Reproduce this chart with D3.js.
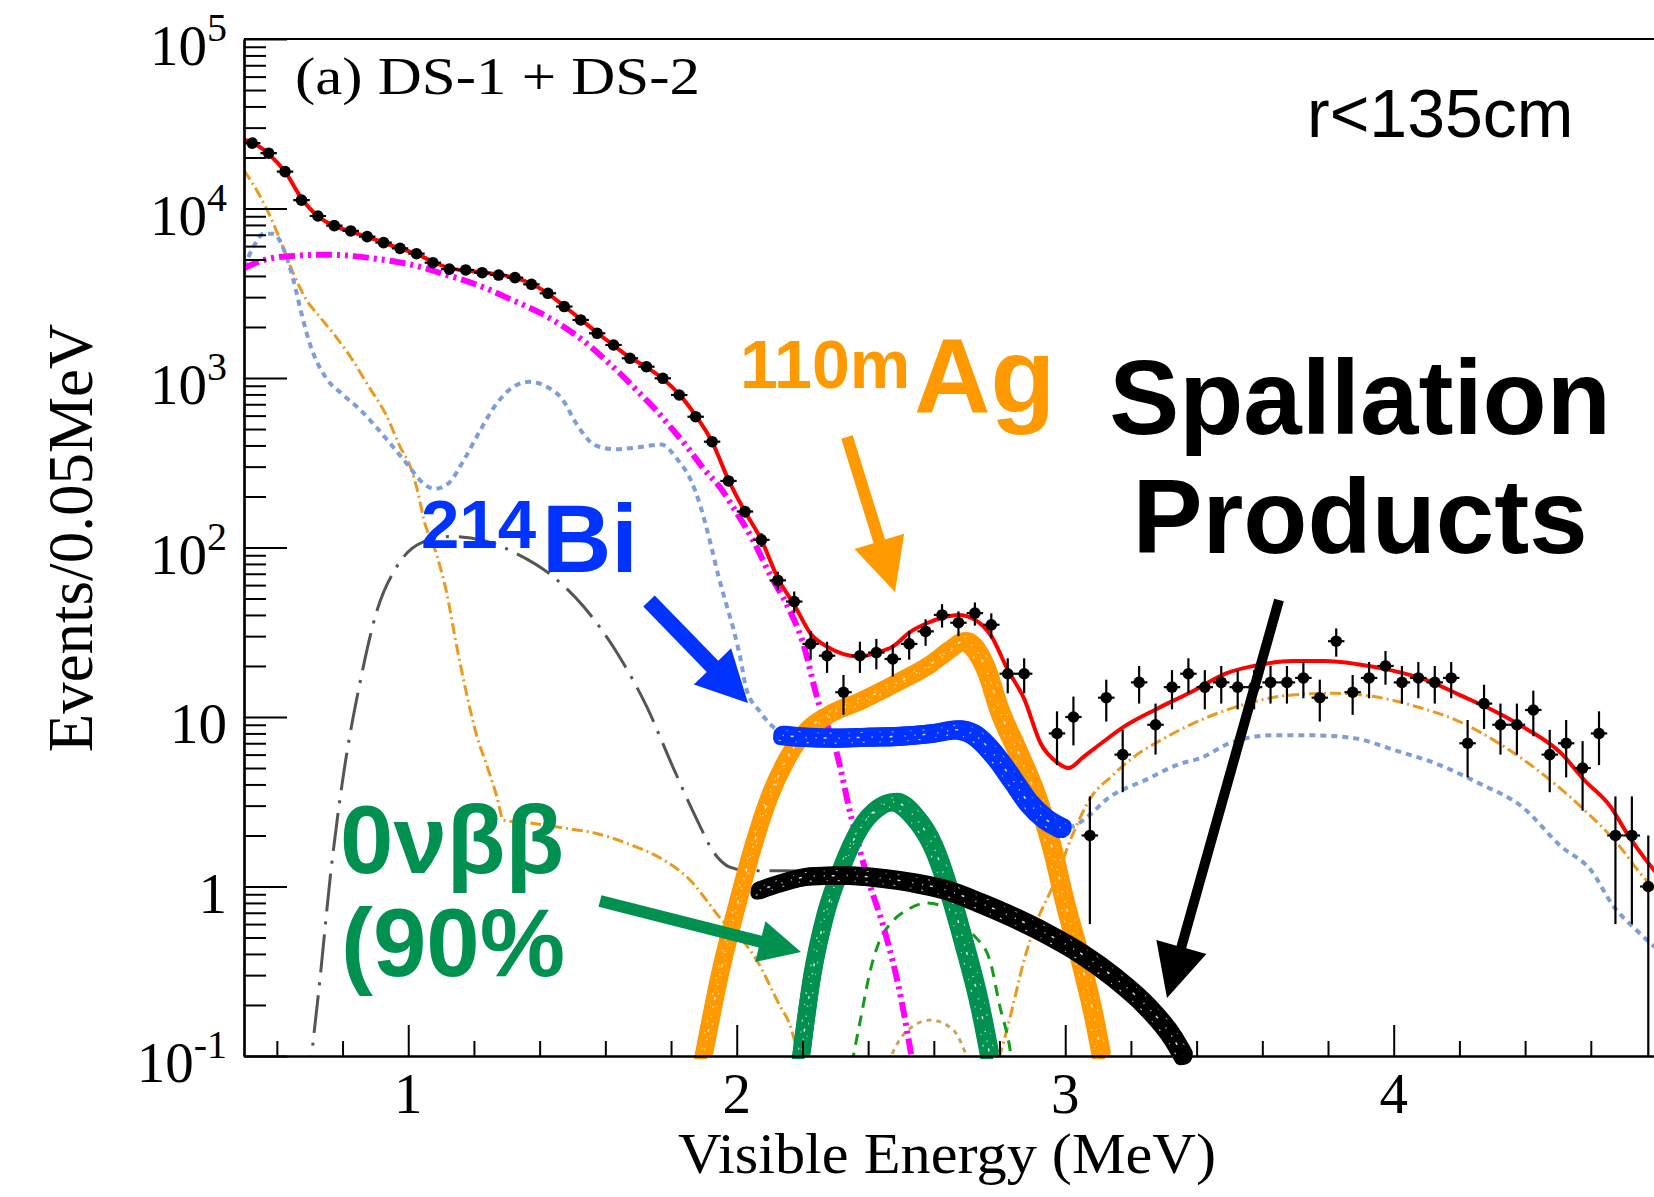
<!DOCTYPE html>
<html>
<head>
<meta charset="utf-8">
<script src="https://cdn.jsdelivr.net/npm/d3@7"></script>
<style>
body { margin: 0; background: #fff; }
svg { display: block; }
</style>
</head>
<body>
<svg id="chart" width="1654" height="1197"></svg>
<script>
// data points (0.05 MeV bins)
const dataE = [0.525,0.575,0.625,0.675,0.725,0.775,0.825,0.875,0.925,0.975,
    1.025,1.075,1.125,1.175,1.225,1.275,1.325,1.375,1.425,1.475,
    1.525,1.575,1.625,1.675,1.725,1.775,1.825,1.875,1.925,1.975,
    2.025,2.075,2.125,2.175,2.225,2.275,2.325,2.375,2.425,2.475,
    2.525,2.575,2.625,2.675,2.725,2.775,2.825,2.875,2.925,2.975,
    3.025,3.075,3.125,3.175,3.225,3.275,3.325,3.375,3.425,3.475,
    3.525,3.575,3.625,3.675,3.725,3.775,3.825,3.875,3.925,3.975,
    4.025,4.075,4.125,4.175,4.225,4.275,4.325,4.375,4.425,4.475,
    4.525,4.575,4.625,4.675,4.725,4.775];
const dataN = [24300,21200,16500,11200,9030,7920,7370,6820,6290,5820,
    5410,4790,4390,4340,4180,4050,3910,3570,3160,2640,
    2200,1835,1566,1307,1166,996,794,591,421,247,
    163,111,64,48,27,23,14,23,24,22,
    27,32,40,36,41,35,18,18,null,8,
    10,2,13,6,16,9,15,18,15,16,
    15,15,16,16,17,13,28,14,17,20,
    16,17,16,17,7,12,9,9,11,6,
    7,5,8,2,2,1];
const dataErr = [156,146,128,106,95,89,86,83,79,76,
    74,69,66,66,65,64,63,60,56,51,
    47,43,40,36,34,32,28,24,21,16,
    13,10.5,8,7,5.2,4.8,3.7,4.8,4.9,4.7,
    5.2,5.7,6.3,6,6.4,5.9,4.2,4.2,null,2.8,
    3.2,1.4,3.6,2.4,4,3,3.9,4.2,3.9,4,
    3.9,3.9,4,4,4.1,3.6,5.3,3.7,4.1,4.5,
    4,4.1,4,4.1,2.6,3.5,3,3,3.3,2.4,
    2.6,2.2,2.8,1.4,1.4,1];
const binHalf = 0.025;

// model curves [MeV, events/0.05MeV]
const totalFit = [[0.5,25500],[0.525,24500],[0.575,21000],[0.625,16500],[0.675,11500],[0.725,9000],
    [0.775,7900],[0.825,7300],[0.875,6800],[0.925,6300],[0.975,5800],[1.025,5400],[1.075,4850],
    [1.125,4450],[1.175,4300],[1.225,4200],[1.275,4080],[1.325,3900],[1.375,3600],[1.425,3150],
    [1.475,2650],[1.525,2220],[1.575,1850],[1.625,1560],[1.675,1320],[1.725,1160],[1.775,990],
    [1.825,800],[1.875,600],[1.925,420],[1.975,250],[2.025,163],[2.075,111],[2.125,66],[2.175,46],
    [2.225,31],[2.275,26],[2.325,23.5],[2.375,22.7],[2.425,24],[2.475,26],[2.525,31.5],[2.575,35.5],
    [2.625,38.5],[2.675,40],[2.725,37.5],[2.775,30],[2.825,19],[2.875,12.8],[2.925,7.0],[2.975,5.4],
    [3.01,5.0],[3.055,5.8],[3.11,7.0],[3.18,8.8],[3.28,11.2],[3.385,14.1],[3.49,18.1],[3.59,20.3],
    [3.69,21.4],[3.79,21.4],[3.89,20.5],[3.99,18.9],[4.10,16.5],[4.20,13.5],[4.30,11.0],[4.40,8.6],
    [4.51,6.1],[4.58,4.25],[4.66,2.96],[4.71,2.06],[4.76,1.5],[4.80,1.2]];
const xe2nu = [[0.50,4440],[0.55,4900],[0.60,5150],[0.65,5250],[0.70,5320],[0.75,5330],[0.80,5300],
    [0.85,5200],[0.90,5050],[0.95,4900],[1.00,4700],[1.05,4450],[1.10,4150],[1.15,3880],[1.20,3600],
    [1.25,3300],[1.30,2980],[1.35,2700],[1.40,2430],[1.45,2140],[1.50,1850],[1.55,1560],[1.60,1280],
    [1.65,1040],[1.70,830],[1.75,660],[1.80,510],[1.85,390],[1.90,290],[1.95,225],[2.00,160],
    [2.05,110],[2.10,70],[2.15,47],[2.20,28],[2.25,12],[2.30,6.6],[2.35,2.5],[2.40,1.1],[2.45,0.55],
    [2.50,0.22],[2.54,0.08]];
const bgBlue = [[0.50,4500],[0.53,6000],[0.56,7100],[0.59,7100],[0.62,5800],[0.65,3800],[0.675,2400],
    [0.70,1600],[0.75,1000],[0.80,800],[0.85,660],[0.90,520],[0.95,400],[1.00,305],[1.04,245],
    [1.08,222],[1.12,237],[1.17,330],[1.22,495],[1.27,710],[1.33,910],[1.37,950],[1.42,890],
    [1.47,745],[1.51,545],[1.57,400],[1.63,380],[1.70,390],[1.77,405],[1.82,330],[1.86,250],
    [1.89,174],[1.92,106],[1.945,67],[1.97,45],[1.99,33],[2.01,22.7],[2.03,14.5],[2.07,10.8],
    [2.12,8.5],[2.2,7.7],[2.3,7.6],[2.4,7.5],[2.5,7.6],[2.6,7.8],[2.7,7.8],[2.8,5.5],[2.9,3.5],
    [2.95,2.6],[3.0,2.2],[3.02,2.25],[3.08,2.7],[3.12,3.2],[3.25,4.3],[3.35,5.3],[3.41,5.7],
    [3.50,7.0],[3.63,7.8],[3.75,7.8],[3.88,7.5],[4.00,6.4],[4.13,5.3],[4.26,4.06],[4.39,2.96],
    [4.51,1.72],[4.60,1.25],[4.67,0.76],[4.74,0.55],[4.80,0.43]];
const bgOrange = [[0.50,16800],[0.55,11700],[0.58,8950],[0.61,6520],[0.65,4150],[0.69,2890],
    [0.73,2300],[0.78,1750],[0.83,1280],[0.88,889],[0.93,619],[0.975,394],[1.01,287],[1.03,209],
    [1.046,150],[1.087,90],[1.117,54],[1.147,26.4],[1.178,13.6],[1.208,7.8],[1.239,5.2],[1.269,3.43],
    [1.29,2.46],[1.37,2.37],[1.47,2.22],[1.57,2.06],[1.675,1.77],[1.776,1.44],[1.86,1.08],[1.91,0.82],
    [1.95,0.65],[2.01,0.5],[2.06,0.37],[2.13,0.2],[2.16,0.156],[2.19,0.1],[2.25,0.06],[2.75,0.06],
    [2.80,0.1],[2.84,0.195],[2.87,0.34],[2.90,0.53],[2.97,1.09],[3.02,1.97],[3.08,3.39],[3.14,4.45],
    [3.21,5.83],[3.31,7.65],[3.435,10.0],[3.56,12.1],[3.69,13.5],[3.82,13.8],[3.94,13.2],[4.07,11.5],
    [4.20,9.4],[4.32,7.0],[4.45,4.66],[4.58,2.83],[4.68,1.8],[4.75,1.2],[4.80,0.93]];
const bgGray = [[0.695,0.06],[0.706,0.1],[0.731,0.28],[0.762,1.11],[0.80,4.2],[0.853,15.9],[0.904,41.9],
    [0.965,77],[1.046,108],[1.127,116],[1.228,110],[1.33,92],[1.43,70],[1.533,45],[1.635,24],
    [1.726,11.5],[1.807,5.0],[1.878,2.5],[1.929,1.6],[1.979,1.3],[2.03,1.24],[2.15,1.24],[2.3,1.15]];
const bgGreenDash = [[2.34,0.07],[2.355,0.1],[2.38,0.177],[2.405,0.31],[2.435,0.48],[2.47,0.61],
    [2.52,0.73],[2.58,0.80],[2.65,0.72],[2.72,0.52],[2.77,0.37],[2.80,0.2],[2.835,0.1],[2.845,0.07]];
const bgTan = [[2.45,0.08],[2.47,0.1],[2.52,0.142],[2.59,0.163],[2.66,0.142],[2.70,0.1],[2.72,0.08]];

// fitted component bands
const agBand = [[1.89,0.08],[1.95,0.31],[2.00,0.76],[2.05,1.72],[2.10,3.39],[2.15,5.5],[2.21,8.2],
    [2.28,10.3],[2.38,12.5],[2.49,16],[2.59,20.5],[2.65,25],[2.69,28],[2.72,26],[2.76,19],[2.80,11],
    [2.86,6.0],[2.92,3.1],[2.96,1.7],[3.00,0.8],[3.045,0.38],[3.085,0.18],[3.12,0.08]];
const biBand = [[2.14,7.8],[2.20,7.6],[2.30,7.5],[2.40,7.6],[2.50,7.7],[2.60,8.0],[2.67,8.4],
    [2.72,7.9],[2.79,5.8],[2.84,4.25],[2.89,3.1],[2.94,2.5],[2.99,2.2]];
const onbbBand = [[2.19,0.08],[2.23,0.3],[2.27,0.68],[2.32,1.3],[2.375,2.2],[2.43,2.9],[2.48,3.15],
    [2.54,2.6],[2.60,1.7],[2.65,0.9],[2.69,0.48],[2.74,0.2],[2.78,0.08]];
const spallBand = [[2.07,0.95],[2.13,1.04],[2.23,1.15],[2.33,1.16],[2.44,1.12],[2.54,1.05],[2.64,0.95],
    [2.74,0.80],[2.84,0.66],[2.94,0.53],[3.05,0.40],[3.15,0.29],[3.25,0.195],[3.33,0.126],[3.36,0.1]];

// axis labels
const yTickValues = [0.1, 1, 10, 100, 1000, 10000, 100000];
const yTickBase = ["10", "1", "10", "10", "10", "10", "10"];
const yTickSup = ["-1", "", "", "2", "3", "4", "5"];
const xTickValues = [1, 2, 3, 4];

const SERIF = "'Liberation Serif', 'Times New Roman', serif";
const SANS = "'Liberation Sans', Arial, Helvetica, sans-serif";

const svg = d3.select("#chart");
const plot = { left: 244, top: 39, right: 1656.5, bottom: 1056 };

const xScale = d3.scaleLinear().domain([0.5, 4.8]).range([plot.left, plot.right]);
const yScale = d3.scaleLog().domain([0.1, 1e5]).range([plot.bottom, plot.top]);

svg.append("rect").attr("width", 1654).attr("height", 1197).attr("fill", "#fff");

let defs = svg.append("defs");
defs.append("clipPath").attr("id", "plotclip").append("rect")
    .attr("x", plot.left).attr("y", plot.top)
    .attr("width", plot.right - plot.left).attr("height", plot.bottom - plot.top);

let lineGen = d3.line()
    .x(function (d) { return xScale(d[0]); })
    .y(function (d) { return yScale(d[1]); })
    .curve(d3.curveMonotoneX);

function drawCurve(data, color, width, dash, clip) {
    let p = svg.append("path").datum(data)
        .attr("d", lineGen)
        .attr("fill", "none")
        .attr("stroke", color)
        .attr("stroke-width", width)
        .attr("stroke-linejoin", "round");
    if (dash) p.attr("stroke-dasharray", dash);
    if (clip) p.attr("clip-path", "url(#plotclip)");
    return p;
}

// thick scribbly bands: a few wide strokes slightly offset + white specks
function drawBand(data, color, width, clip) {
    drawCurve(data, color, width, null, clip).attr("stroke-linecap", "round");
    drawCurve(data, color, width * 0.7, null, clip).attr("transform", "translate(3,-3)").attr("stroke-linecap", "round");
    drawCurve(data, color, width * 0.7, null, clip).attr("transform", "translate(-3,3)").attr("stroke-linecap", "round");
    drawCurve(data, "#fff", 1.5, "1,7,3,12,1,9", clip).attr("opacity", 0.85);
    drawCurve(data, "#fff", 1.2, "2,15,1,10", clip).attr("opacity", 0.75).attr("transform", "translate(-4,5)");
    drawCurve(data, "#fff", 1.0, "1,11,2,17", clip).attr("opacity", 0.7).attr("transform", "translate(4,-5)");
}

// ---- background components
drawCurve(bgGray, "#555", 3, "38,10,3,10", true);
drawCurve(bgOrange, "#e99a1f", 3, "11,4,2,4", true);
drawCurve(bgBlue, "#7f9ed8", 4, "6,5", true);
drawCurve(bgTan, "#c9a45a", 3, "5,5", true);
drawCurve(bgGreenDash, "#139c1a", 3, "11,8", true);
drawCurve(xe2nu, "#ff00ff", 6, "16,5,3,5,3,5", true);

// ---- bands
drawBand(agBand, "#ff9900", 18, true);
drawBand(biBand, "#0033ff", 19, true);
drawBand(onbbBand, "#009150", 18, true);
drawBand(spallBand, "#000", 18, false);

// ---- total fit
drawCurve(totalFit, "#ff0000", 4, null, true);

// ---- data points with error bars
let points = dataE.map(function (e, i) {
    return { e: e, n: dataN[i], err: dataErr[i] };
}).filter(function (d) { return d.n != null; });

let pg = svg.append("g").attr("clip-path", "url(#plotclip)");
pg.selectAll("line.ex").data(points).enter().append("line")
    .attr("x1", function (d) { return xScale(d.e - binHalf); })
    .attr("x2", function (d) { return xScale(d.e + binHalf); })
    .attr("y1", function (d) { return yScale(d.n); })
    .attr("y2", function (d) { return yScale(d.n); })
    .attr("stroke", "#000").attr("stroke-width", 2.2);
pg.selectAll("line.ey").data(points).enter().append("line")
    .attr("x1", function (d) { return xScale(d.e); })
    .attr("x2", function (d) { return xScale(d.e); })
    .attr("y1", function (d) { return yScale(d.n + d.err); })
    .attr("y2", function (d) { return d.n - d.err > 0.01 ? yScale(d.n - d.err) : plot.bottom + 20; })
    .attr("stroke", "#000").attr("stroke-width", 2.2);
pg.selectAll("circle").data(points).enter().append("circle")
    .attr("cx", function (d) { return xScale(d.e); })
    .attr("cy", function (d) { return yScale(d.n); })
    .attr("r", 5.8).attr("fill", "#000");

// ---- axes (ticks pointing inwards, ROOT style)
let yMinor = [];
for (let dec = 0.1; dec < 1e5; dec *= 10) {
    for (let m = 2; m <= 9; m++) yMinor.push(+(dec * m).toPrecision(3));
}
let xMinor = [];
for (let v = 6; v <= 48; v += 2) {
    if (v % 10 !== 0) xMinor.push(v / 10);
}

function styleAxis(g) {
    g.selectAll("line").attr("stroke", "#000").attr("stroke-width", 2);
    g.selectAll("path.domain").attr("stroke", "#000").attr("stroke-width", 2.2);
    g.selectAll("text").remove();
}

svg.append("g").attr("transform", "translate(" + plot.left + ",0)")
    .call(d3.axisLeft(yScale).tickValues(yMinor).tickSize(-22).tickSizeOuter(0).tickFormat(""))
    .call(styleAxis);
svg.append("g").attr("transform", "translate(" + plot.left + ",0)")
    .call(d3.axisLeft(yScale).tickValues(yTickValues).tickSize(-43).tickSizeOuter(0).tickFormat(""))
    .call(styleAxis);
svg.append("g").attr("transform", "translate(0," + plot.bottom + ")")
    .call(d3.axisBottom(xScale).tickValues(xMinor).tickSize(-15).tickSizeOuter(0).tickFormat(""))
    .call(styleAxis);
svg.append("g").attr("transform", "translate(0," + plot.bottom + ")")
    .call(d3.axisBottom(xScale).tickValues(xTickValues).tickSize(-31).tickSizeOuter(0).tickFormat(""))
    .call(styleAxis);
svg.append("line")
    .attr("x1", plot.left).attr("x2", plot.right)
    .attr("y1", plot.top).attr("y2", plot.top)
    .attr("stroke", "#000").attr("stroke-width", 2.2);

// tick labels
yTickValues.forEach(function (v, i) {
    let t = svg.append("text")
        .attr("x", 227).attr("y", yScale(v) + 26)
        .attr("text-anchor", "end")
        .attr("font-family", SERIF).attr("font-size", 57);
    t.append("tspan").text(yTickBase[i]);
    if (yTickSup[i]) {
        t.append("tspan").attr("dy", -24).attr("font-size", 40).text(yTickSup[i]);
    }
});
xTickValues.forEach(function (v) {
    svg.append("text")
        .attr("x", xScale(v)).attr("y", 1113)
        .attr("text-anchor", "middle")
        .attr("font-family", SERIF).attr("font-size", 57)
        .text(v);
});

// axis titles
svg.append("text")
    .attr("x", 678).attr("y", 1173)
    .attr("textLength", 538).attr("lengthAdjust", "spacingAndGlyphs")
    .attr("font-family", SERIF).attr("font-size", 58)
    .text("Visible Energy (MeV)");
svg.append("text")
    .attr("transform", "translate(92,538) rotate(-90)")
    .attr("text-anchor", "middle")
    .attr("font-family", SERIF).attr("font-size", 63)
    .text("Events/0.05MeV");

// ---- annotations
svg.append("text")
    .attr("x", 295).attr("y", 94)
    .attr("textLength", 405).attr("lengthAdjust", "spacingAndGlyphs")
    .attr("font-family", SERIF).attr("font-size", 52)
    .text("(a) DS-1 + DS-2");
svg.append("text")
    .attr("x", 1307).attr("y", 137)
    .attr("font-family", SANS).attr("font-size", 68)
    .text("r<135cm");

function label(x, y, size, color, txt, anchor) {
    return svg.append("text")
        .attr("x", x).attr("y", y)
        .attr("text-anchor", anchor || "start")
        .attr("font-family", SANS).attr("font-weight", "bold")
        .attr("font-size", size).attr("fill", color)
        .text(txt);
}
label(740, 388, 68, "#ff9900", "110m");
label(914, 413, 106, "#ff9900", "Ag");
label(421, 548, 69, "#0033ff", "214");
label(542, 572, 96, "#0033ff", "Bi");
label(340, 873, 96, "#009150", "0νββ");
label(341, 976, 96, "#009150", "(90%");
label(1360, 434, 105, "#000", "Spallation", "middle");
label(1360, 553, 105, "#000", "Products", "middle");

function arrow(x1, y1, x2, y2, shaftW, headL, headW, color) {
    let dx = x2 - x1, dy = y2 - y1, len = Math.hypot(dx, dy);
    let ux = dx / len, uy = dy / len, px = -uy, py = ux;
    let bx = x2 - ux * headL, by = y2 - uy * headL;
    let pts = [
        [x1 + px * shaftW / 2, y1 + py * shaftW / 2],
        [bx + px * shaftW / 2, by + py * shaftW / 2],
        [bx + px * headW, by + py * headW],
        [x2, y2],
        [bx - px * headW, by - py * headW],
        [bx - px * shaftW / 2, by - py * shaftW / 2],
        [x1 - px * shaftW / 2, y1 - py * shaftW / 2]
    ];
    svg.append("polygon")
        .attr("points", pts.map(function (p) { return p.join(","); }).join(" "))
        .attr("fill", color);
}
arrow(847, 437, 895, 592, 12, 53, 26, "#ff9900");
arrow(649, 601, 748, 703, 16, 51, 26, "#0033ff");
arrow(600, 901, 801, 952, 12, 42, 21, "#009150");
arrow(1279, 600, 1167, 998, 10, 53, 26, "#000");
</script>
</body>
</html>
